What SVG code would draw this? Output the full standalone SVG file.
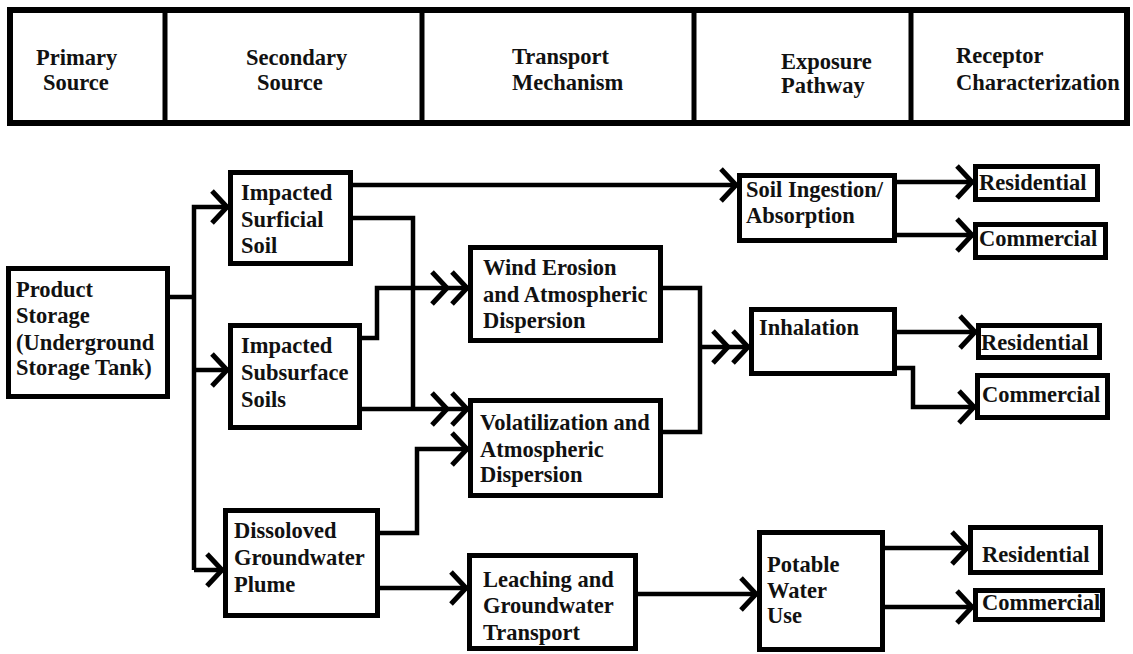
<svg xmlns="http://www.w3.org/2000/svg" width="1133" height="654" viewBox="0 0 1133 654">
  <defs>
    <style>
      .box { fill: #ffffff; stroke: #000000; stroke-width: 5; }
      .hdr { fill: none; stroke: #000000; stroke-width: 6; }
      .div { stroke: #000000; stroke-width: 5; }
      .t { font-family: 'Liberation Serif', 'DejaVu Serif', serif; font-weight: 700; font-size: 22.5px; fill: #111111; }
      .c { fill: none; stroke: #000000; stroke-width: 4.5; stroke-linejoin: miter; }
    </style>
    <marker id="a1" markerUnits="userSpaceOnUse" markerWidth="40" markerHeight="40" refX="0" refY="0" viewBox="-20 -20 40 40" orient="auto" overflow="visible">
      <path d="M-16,-16 L-1,0 L-16,16" fill="none" stroke="#000" stroke-width="5"/>
    </marker>
    <marker id="a2" markerUnits="userSpaceOnUse" markerWidth="60" markerHeight="40" refX="0" refY="0" viewBox="-40 -20 60 40" orient="auto" overflow="visible">
      <path d="M-36,-16 L-21,0 L-36,16 M-16,-16 L-1,0 L-16,16" fill="none" stroke="#000" stroke-width="5"/>
    </marker>
  </defs>

  <g id="header">
    <rect class="hdr" x="10" y="10" width="1117" height="113"/>
    <line class="div" x1="165" y1="10" x2="165" y2="123"/>
    <line class="div" x1="422" y1="10" x2="422" y2="123"/>
    <line class="div" x1="694" y1="10" x2="694" y2="123"/>
    <line class="div" x1="911" y1="10" x2="911" y2="123"/>
    <text class="t" x="36" y="65" font-family="Liberation Serif, serif">Primary</text>
    <text class="t" x="43" y="90">Source</text>
    <text class="t" x="246" y="65">Secondary</text>
    <text class="t" x="257" y="90">Source</text>
    <text class="t" x="512" y="64">Transport</text>
    <text class="t" x="512" y="90">Mechanism</text>
    <text class="t" x="781" y="69">Exposure</text>
    <text class="t" x="781" y="93">Pathway</text>
    <text class="t" x="956" y="63">Receptor</text>
    <text class="t" x="956" y="90">Characterization</text>
  </g>

  <g id="connectors">
    <path class="c" d="M170,297 H194"/>
    <path class="c" d="M194,570 V207 H228" marker-end="url(#a1)"/>
    <path class="c" d="M194,370 H228" marker-end="url(#a1)"/>
    <path class="c" d="M194,570 H223" marker-end="url(#a1)"/>
    <path class="c" d="M353,185 H737" marker-end="url(#a1)"/>
    <path class="c" d="M353,218 H413 V409"/>
    <path class="c" d="M362,338 H377 V288 H468" marker-end="url(#a2)"/>
    <path class="c" d="M362,409 H468" marker-end="url(#a2)"/>
    <path class="c" d="M380,533 H417 V449 H468" marker-end="url(#a1)"/>
    <path class="c" d="M380,588 H467" marker-end="url(#a1)"/>
    <path class="c" d="M663,288 H700 V432 H663"/>
    <path class="c" d="M700,347 H749" marker-end="url(#a2)"/>
    <path class="c" d="M638,594 H757" marker-end="url(#a1)"/>
    <path class="c" d="M897,182 H973" marker-end="url(#a1)"/>
    <path class="c" d="M897,235 H973" marker-end="url(#a1)"/>
    <path class="c" d="M897,332 H976" marker-end="url(#a1)"/>
    <path class="c" d="M897,368 H913 V407 H975" marker-end="url(#a1)"/>
    <path class="c" d="M885,548 H968" marker-end="url(#a1)"/>
    <path class="c" d="M885,607 H973" marker-end="url(#a1)"/>
  </g>

  <g id="product-storage">
    <rect class="box" x="8.5" y="268.5" width="159" height="128"/>
    <text class="t" x="16" y="297">Product</text>
    <text class="t" x="16" y="323">Storage</text>
    <text class="t" x="16" y="350">(Underground</text>
    <text class="t" x="16" y="375">Storage Tank)</text>
  </g>
  <g id="impacted-surficial-soil">
    <rect class="box" x="230.5" y="172.5" width="120" height="91"/>
    <text class="t" x="241" y="200">Impacted</text>
    <text class="t" x="241" y="227">Surficial</text>
    <text class="t" x="241" y="253">Soil</text>
  </g>
  <g id="impacted-subsurface-soils">
    <rect class="box" x="230.5" y="325.5" width="129" height="102"/>
    <text class="t" x="241" y="353">Impacted</text>
    <text class="t" x="241" y="380">Subsurface</text>
    <text class="t" x="241" y="407">Soils</text>
  </g>
  <g id="dissolved-groundwater-plume">
    <rect class="box" x="225.5" y="510.5" width="152" height="105"/>
    <text class="t" x="234" y="538">Dissoloved</text>
    <text class="t" x="234" y="565">Groundwater</text>
    <text class="t" x="234" y="592">Plume</text>
  </g>
  <g id="wind-erosion">
    <rect class="box" x="470.5" y="247.5" width="190" height="93"/>
    <text class="t" x="483" y="275">Wind Erosion</text>
    <text class="t" x="483" y="302">and Atmospheric</text>
    <text class="t" x="483" y="328">Dispersion</text>
  </g>
  <g id="volatilization">
    <rect class="box" x="470.5" y="400.5" width="190" height="95"/>
    <text class="t" x="480" y="430">Volatilization and</text>
    <text class="t" x="480" y="457">Atmospheric</text>
    <text class="t" x="480" y="482">Dispersion</text>
  </g>
  <g id="leaching">
    <rect class="box" x="469.5" y="555.5" width="166" height="93"/>
    <text class="t" x="483" y="587">Leaching and</text>
    <text class="t" x="483" y="613">Groundwater</text>
    <text class="t" x="483" y="640">Transport</text>
  </g>
  <g id="soil-ingestion">
    <rect class="box" x="739.5" y="175.5" width="155" height="65"/>
    <text class="t" x="746" y="197">Soil Ingestion/</text>
    <text class="t" x="746" y="223">Absorption</text>
  </g>
  <g id="inhalation">
    <rect class="box" x="751.5" y="309.5" width="143" height="64"/>
    <text class="t" x="759" y="335">Inhalation</text>
  </g>
  <g id="potable-water-use">
    <rect class="box" x="759.5" y="532.5" width="123" height="117"/>
    <text class="t" x="767" y="572">Potable</text>
    <text class="t" x="767" y="598">Water</text>
    <text class="t" x="767" y="623">Use</text>
  </g>
  <g id="residential-1">
    <rect class="box" x="975.5" y="166.5" width="122" height="33"/>
    <text class="t" x="979" y="190">Residential</text>
  </g>
  <g id="commercial-1">
    <rect class="box" x="975.5" y="224.5" width="130" height="33"/>
    <text class="t" x="979" y="246">Commercial</text>
  </g>
  <g id="residential-2">
    <rect class="box" x="978.5" y="325.5" width="121" height="32"/>
    <text class="t" x="981" y="350">Residential</text>
  </g>
  <g id="commercial-2">
    <rect class="box" x="977.5" y="375.5" width="130" height="42"/>
    <text class="t" x="982" y="402">Commercial</text>
  </g>
  <g id="residential-3">
    <rect class="box" x="970.5" y="527.5" width="130" height="45"/>
    <text class="t" x="982" y="562">Residential</text>
  </g>
  <g id="commercial-3">
    <rect class="box" x="975.5" y="590.5" width="127" height="29"/>
    <text class="t" x="982" y="610">Commercial</text>
  </g>
</svg>
